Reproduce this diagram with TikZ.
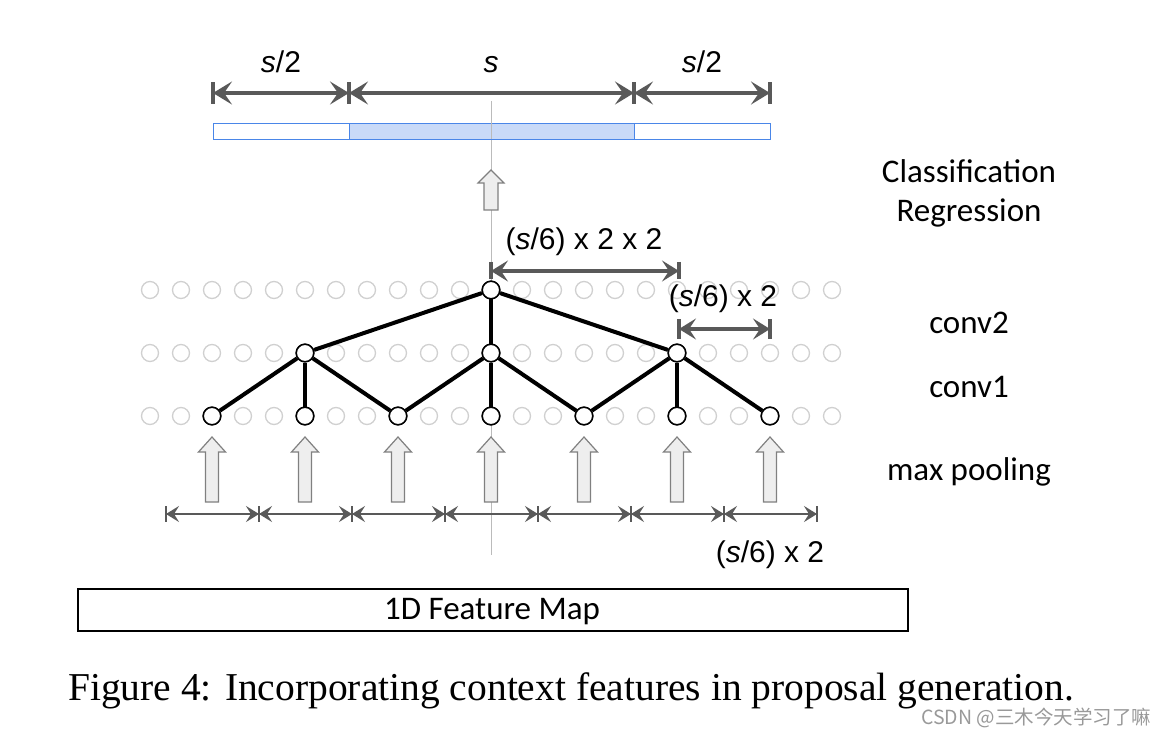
\documentclass[tikz,border=0pt]{standalone}
\usepackage{fontspec}
\setmainfont{Liberation Serif}
\newfontfamily\arialf{Liberation Sans}
\newfontfamily\calibf{Carlito}
\newfontfamily\cjkf{Noto Sans CJK SC}
\usetikzlibrary{arrows.meta}
\definecolor{dimgray}{HTML}{595959}
\definecolor{barblue}{HTML}{4A86E8}
\definecolor{barfill}{HTML}{C9DAF8}
\definecolor{ghost}{HTML}{D0D0D0}
\definecolor{axisgray}{HTML}{BBBBBB}
\definecolor{blkfill}{HTML}{EEEEEE}
\definecolor{blkdraw}{HTML}{808080}
\begin{document}
\begin{tikzpicture}[x=1pt,y=-1pt,
  ghostnode/.style={circle,draw=ghost,line width=1.3pt,minimum size=17pt,inner sep=0pt},
  actnode/.style={circle,draw=black,fill=white,line width=1.5pt,minimum size=17.5pt,inner sep=0pt},
  edge/.style={line width=4pt,black},
  bigdim/.style={draw=dimgray,line width=3.6pt,arrows={Stealth[length=19pt,width=23pt,inset=8pt]-Stealth[length=19pt,width=23pt,inset=8pt]}},
  middim/.style={draw=dimgray,line width=3.2pt,arrows={Stealth[length=17pt,width=21pt,inset=7pt]-Stealth[length=17pt,width=21pt,inset=7pt]}},
  smalldim/.style={draw=dimgray,line width=2.2pt,arrows={Stealth[length=13pt,width=16pt,inset=5pt]-Stealth[length=13pt,width=16pt,inset=5pt]}},
  bigtick/.style={draw=dimgray,line width=3.6pt},
  midtick/.style={draw=dimgray,line width=3.2pt},
  smalltick/.style={draw=dimgray,line width=2pt},
  blk/.style={draw=blkdraw,fill=blkfill,line width=1.2pt,line join=miter},
  dimtext/.style={font=\arialf\fontsize{30}{36}\selectfont,anchor=base,inner sep=0pt},
  sidetext/.style={font=\calibf\fontsize{33}{39}\selectfont,anchor=base,inner sep=0pt},
  barseg/.style={draw=barblue,line width=1.3pt}
]
\useasboundingbox (0,0) rectangle (1167,735);

% vertical axis line
\coordinate (axtop) at (491,101);
\coordinate (axbot) at (491,555);
\draw[axisgray,line width=1pt] (axtop) -- (axbot);

% top bar
\node[barseg,fill=white,minimum width=136pt,minimum height=16pt,inner sep=0pt,anchor=north west] (barL) at (213,123) {};
\node[barseg,fill=barfill,minimum width=285pt,minimum height=16pt,inner sep=0pt,anchor=north west] (barM) at (349,123) {};
\node[barseg,fill=white,minimum width=136pt,minimum height=16pt,inner sep=0pt,anchor=north west] (barR) at (634,123) {};
\draw[axisgray,line width=1pt] (491,123) -- (491,139);

% top dimensions
\coordinate (t0) at (213,93);
\coordinate (t1) at (349,93);
\coordinate (t2) at (634,93);
\coordinate (t3) at (770,93);
\foreach \p in {t0,t1,t2,t3} \draw[bigtick] ([yshift=-11pt]\p) -- ([yshift=11pt]\p);
\draw[bigdim] (t0) -- (t1);
\draw[bigdim] (t1) -- (t2);
\draw[bigdim] (t2) -- (t3);
\node[dimtext] (ls1) at (281,73) {\textit{s}/2};
\node[dimtext] (ls) at (491,73) {\textit{s}};
\node[dimtext] (ls2) at (702,73) {\textit{s}/2};

% small block arrow to bar
\draw[blk] (484,210) -- (484,183) -- (478,183) -- (491,170) -- (504,183) -- (498,183) -- (498,210) -- cycle;

% side labels
\node[sidetext] (lcls) at (969,183) {Classification};
\node[sidetext] (lreg) at (969,222) {Regression};
\node[sidetext] (lc2) at (969,334) {conv2};
\node[sidetext] (lc1) at (969,397) {conv1};
\node[sidetext] (lmp) at (969,480) {max pooling};

% ghost circles
\foreach \i in {0,...,22} {
  \foreach \yy/\r in {290/a,353/b,416/c} {
    \node[ghostnode] (g\r\i) at ({150+31*\i},\yy) {};
  }
}

% active nodes
\node[actnode] (top) at (491,290) {};
\node[actnode] (m1) at (305,353) {};
\node[actnode] (m2) at (491,353) {};
\node[actnode] (m3) at (677,353) {};
\foreach \k/\xx in {1/212,2/305,3/398,4/491,5/584,6/677,7/770}
  \node[actnode] (b\k) at (\xx,416) {};

% edges
\draw[edge] (b1) -- (m1);
\draw[edge] (b2) -- (m1);
\draw[edge] (b3) -- (m1);
\draw[edge] (b3) -- (m2);
\draw[edge] (b4) -- (m2);
\draw[edge] (b5) -- (m2);
\draw[edge] (b5) -- (m3);
\draw[edge] (b6) -- (m3);
\draw[edge] (b7) -- (m3);
\draw[edge] (m1) -- (top);
\draw[edge] (m2) -- (top);
\draw[edge] (m3) -- (top);
% redraw nodes on top
\foreach \n in {top,m1,m2,m3,b1,b2,b3,b4,b5,b6,b7} \node[actnode] at (\n) {};

% middle dimensions
\coordinate (d0) at (491,271);
\coordinate (d1) at (679,271);
\draw[midtick] (491,262) -- (491,279);
\draw[midtick] (679,262) -- (679,279);
\draw[middim] (d0) -- (d1);
\node[dimtext] (lm1) at (584,250) {(\textit{s}/6) x 2 x 2};

\coordinate (e0) at (679,329);
\coordinate (e1) at (770,329);
\draw[midtick] (679,319) -- (679,339);
\draw[midtick] (770,319) -- (770,339);
\draw[middim] (e0) -- (e1);
\node[dimtext] (lm2) at (723,307) {(\textit{s}/6) x 2};

% block arrows (max pooling)
\foreach \xx in {212,305,398,491,584,677,770}
  \draw[blk] (\xx-6.5,502) -- (\xx-6.5,452) -- (\xx-13.5,452) -- (\xx,437) -- (\xx+13.5,452) -- (\xx+6.5,452) -- (\xx+6.5,502) -- cycle;

% bottom dimensions
\foreach \k/\xx in {0/166,1/259,2/352,3/445,4/538,5/631,6/724,7/817} {
  \coordinate (f\k) at (\xx,514);
  \draw[smalltick] (\xx,506) -- (\xx,522);
}
\foreach \a/\b in {0/1,1/2,2/3,3/4,4/5,5/6,6/7}
  \draw[smalldim] (f\a) -- (f\b);
\node[dimtext] (lb) at (770,562) {(\textit{s}/6) x 2};

% feature map box
\node[draw=black,line width=2.4pt,minimum width=830pt,minimum height=42pt,inner sep=0pt,anchor=north west] (fmap) at (77,588) {};
\node[sidetext] (lfm) at (492,619) {1D Feature Map};

% caption
\node[anchor=base west,inner sep=0pt,font=\fontsize{39.5}{44}\selectfont] (cap) at (68,700) {Figure 4: Incorporating context features in proposal generation.};

% watermark
\node[anchor=base west,inner sep=0pt,text=gray!80,font=\cjkf\fontsize{19.5}{22}\selectfont] (wm) at (921,724) {CSDN @三木今天学习了嘛};
\end{tikzpicture}
\end{document}
